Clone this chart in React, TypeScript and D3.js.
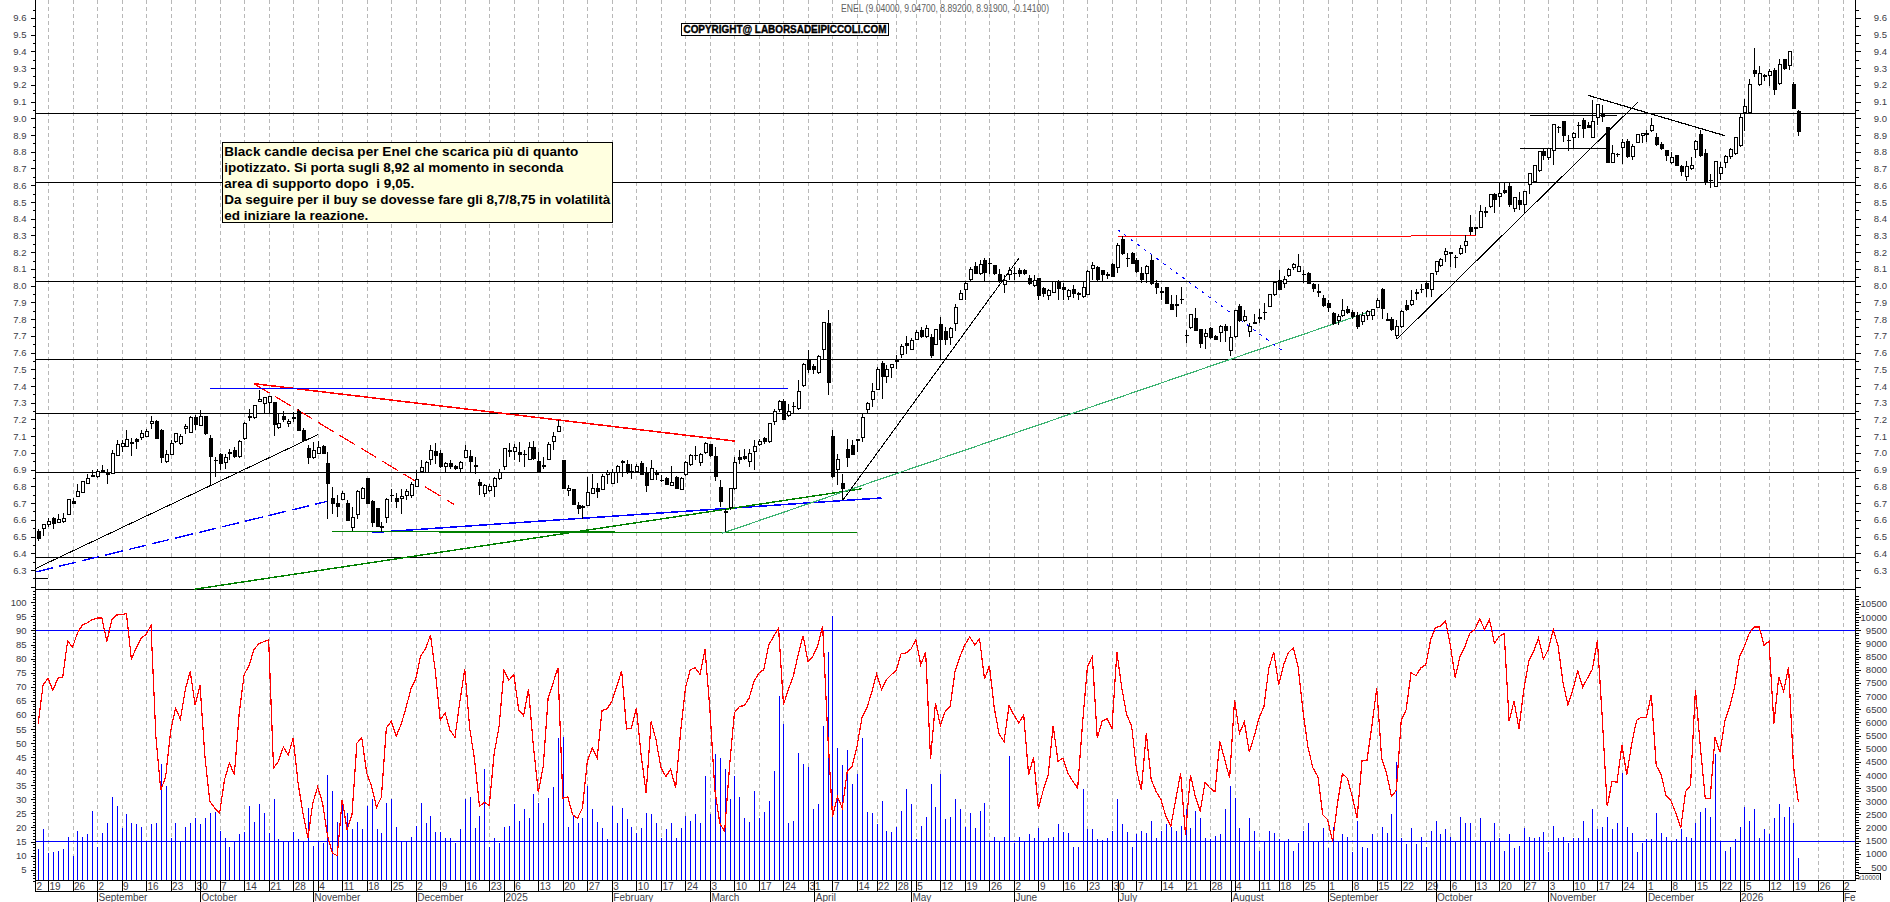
import React, { useEffect, useRef } from 'react';
import * as d3 from 'd3';

const WIDTH = 1890;
const HEIGHT = 902;

// daily candles, bar 0 is mid August 2024, bar 359 is the last session
const opens = [
  6.532, 6.548, 6.57, 6.61, 6.585, 6.59, 6.63, 6.71, 6.74, 6.763,
  6.815, 6.865, 6.862, 6.895, 6.88, 6.88, 6.986, 7.036, 7.04, 7.065,
  7.08, 7.095, 7.1, 7.173, 7.19, 7.135, 6.946, 6.988, 7.066, 7.055,
  7.145, 7.12, 7.21, 7.165, 7.22, 7.088, 6.955, 6.99, 6.94, 7.005,
  7.016, 6.976, 7.084, 7.217, 7.21, 7.305, 7.295, 7.3, 7.3, 7.153,
  7.22, 7.175, 7.21, 7.25, 7.135, 7.025, 6.97, 6.996, 7.04, 6.936,
  6.727, 6.695, 6.723, 6.697, 6.554, 6.63, 6.73, 6.847, 6.71, 6.667,
  6.56, 6.617, 6.747, 6.727, 6.725, 6.743, 6.743, 6.8, 6.89, 6.886,
  6.96, 7.008, 6.996, 6.916, 6.936, 6.92, 6.904, 6.972, 6.98, 6.924,
  6.823, 6.76, 6.773, 6.797, 6.847, 6.916, 7.014, 7.006, 7.002, 6.992,
  6.96, 7.03, 6.95, 6.926, 6.96, 7.068, 7.127, 6.956, 6.775, 6.783,
  6.685, 6.677, 6.685, 6.76, 6.785, 6.78, 6.87, 6.817, 6.884, 6.946,
  6.93, 6.892, 6.892, 6.936, 6.876, 6.84, 6.876, 6.836, 6.85, 6.805,
  6.855, 6.78, 6.87, 6.93, 6.986, 6.94, 7.002, 7.05, 6.978, 6.795,
  6.651, 6.673, 6.785, 6.974, 6.98, 6.948, 7.01, 7.048, 7.086, 7.066,
  7.19, 7.26, 7.305, 7.225, 7.28, 7.263, 7.404, 7.558, 7.516, 7.478,
  7.62, 7.773, 7.1, 6.9, 6.82, 7.022, 7.042, 7.08, 7.09, 7.257,
  7.32, 7.382, 7.534, 7.454, 7.51, 7.55, 7.588, 7.653, 7.616, 7.677,
  7.73, 7.693, 7.69, 7.647, 7.767, 7.727, 7.687, 7.773, 7.92, 7.978,
  8.034, 8.114, 8.07, 8.153, 8.133, 8.118, 8.068, 8.008, 8.064, 8.074,
  8.09, 8.09, 8.04, 8.0, 8.04, 7.98, 7.942, 7.958, 8.024, 7.99,
  7.934, 7.974, 7.95, 7.934, 7.948, 8.1, 8.11, 8.09, 8.064, 8.124,
  8.11, 8.277, 8.163, 8.193, 8.153, 8.07, 8.07, 8.153, 8.01, 7.962,
  7.99, 7.89, 7.89, 7.918, 7.703, 7.747, 7.803, 7.739, 7.693, 7.743,
  7.697, 7.72, 7.757, 7.613, 7.693, 7.877, 7.789, 7.723, 7.777, 7.809,
  7.84, 7.877, 7.944, 8.028, 8.014, 8.06, 8.107, 8.084, 8.068, 8.074,
  8.008, 7.964, 7.924, 7.892, 7.833, 7.789, 7.819, 7.857, 7.837, 7.823,
  7.783, 7.819, 7.819, 7.872, 7.974, 7.797, 7.797, 7.703, 7.753, 7.882,
  7.888, 7.958, 7.978, 8.014, 7.978, 8.084, 8.123, 8.187, 8.197, 8.17,
  8.19, 8.24, 8.35, 8.347, 8.35, 8.44, 8.47, 8.545, 8.53, 8.57,
  8.594, 8.462, 8.51, 8.482, 8.606, 8.62, 8.688, 8.8, 8.763, 8.81,
  8.945, 8.978, 8.87, 8.885, 8.958, 8.985, 8.958, 8.884, 9.004, 9.03,
  8.944, 8.735, 8.785, 8.825, 8.862, 8.77, 8.858, 8.9, 8.902, 8.926,
  8.884, 8.842, 8.806, 8.735, 8.775, 8.71, 8.655, 8.7, 8.814, 8.902,
  8.79, 8.63, 8.595, 8.67, 8.735, 8.77, 8.788, 8.838, 9.034, 9.034,
  9.285, 9.2, 9.253, 9.253, 9.285, 9.207, 9.35, 9.313, 9.2, 9.04,
];

const closes = [
  6.488, 6.57, 6.59, 6.58, 6.6, 6.606, 6.72, 6.7, 6.77, 6.827,
  6.847, 6.857, 6.888, 6.895, 6.87, 6.996, 7.05, 7.055, 7.08, 7.055,
  7.07, 7.115, 7.13, 7.187, 7.085, 6.97, 6.99, 7.055, 7.115, 7.1,
  7.155, 7.21, 7.17, 7.217, 7.115, 6.98, 6.955, 6.936, 6.97, 6.995,
  6.976, 7.068, 7.175, 7.209, 7.283, 7.32, 7.33, 7.335, 7.167, 7.173,
  7.2, 7.19, 7.21, 7.137, 7.075, 6.97, 7.014, 7.03, 6.996, 6.815,
  6.695, 6.677, 6.757, 6.594, 6.617, 6.77, 6.785, 6.697, 6.585, 6.56,
  6.56, 6.72, 6.747, 6.707, 6.74, 6.77, 6.81, 6.84, 6.91, 6.94,
  7.012, 6.986, 6.92, 6.936, 6.916, 6.904, 6.94, 7.014, 6.95, 6.916,
  6.805, 6.805, 6.797, 6.847, 6.886, 7.026, 7.014, 7.03, 6.99, 6.992,
  7.03, 6.968, 6.886, 6.916, 7.05, 7.1, 7.157, 6.79, 6.79, 6.69,
  6.665, 6.677, 6.763, 6.787, 6.767, 6.862, 6.882, 6.882, 6.916, 6.946,
  6.89, 6.892, 6.92, 6.87, 6.807, 6.906, 6.876, 6.836, 6.813, 6.823,
  6.79, 6.847, 6.94, 6.984, 6.986, 6.99, 7.055, 6.982, 6.857, 6.711,
  6.643, 6.789, 6.942, 6.958, 6.964, 6.996, 7.036, 7.068, 7.068, 7.173,
  7.245, 7.305, 7.2, 7.25, 7.28, 7.367, 7.53, 7.496, 7.498, 7.576,
  7.78, 7.418, 6.857, 6.96, 6.79, 6.97, 6.99, 7.072, 7.21, 7.295,
  7.365, 7.498, 7.456, 7.498, 7.528, 7.55, 7.635, 7.64, 7.673, 7.72,
  7.693, 7.742, 7.58, 7.737, 7.68, 7.677, 7.743, 7.87, 7.954, 8.014,
  8.094, 8.074, 8.124, 8.078, 8.133, 8.07, 8.03, 8.028, 8.088, 8.074,
  8.074, 8.074, 8.01, 8.028, 7.942, 7.954, 7.97, 8.024, 7.984, 7.978,
  7.968, 7.954, 7.95, 7.99, 8.084, 8.12, 8.036, 8.064, 8.064, 8.054,
  8.237, 8.193, 8.163, 8.133, 8.084, 8.034, 8.114, 8.014, 7.988, 7.958,
  7.895, 7.86, 7.88, 7.918, 7.703, 7.825, 7.733, 7.657, 7.713, 7.69,
  7.68, 7.757, 7.729, 7.689, 7.849, 7.789, 7.817, 7.753, 7.777, 7.809,
  7.84, 7.948, 8.018, 7.978, 8.038, 8.098, 8.127, 8.117, 8.068, 8.014,
  7.98, 7.964, 7.882, 7.867, 7.773, 7.817, 7.849, 7.837, 7.813, 7.753,
  7.819, 7.843, 7.857, 7.912, 7.862, 7.797, 7.737, 7.757, 7.847, 7.859,
  7.912, 7.958, 7.978, 7.984, 8.07, 8.143, 8.157, 8.203, 8.197, 8.17,
  8.223, 8.263, 8.323, 8.347, 8.445, 8.44, 8.543, 8.515, 8.55, 8.556,
  8.483, 8.526, 8.486, 8.564, 8.67, 8.72, 8.8, 8.775, 8.82, 8.96,
  8.945, 8.895, 8.87, 8.91, 8.958, 8.94, 8.946, 8.978, 9.08, 9.008,
  8.735, 8.79, 8.785, 8.858, 8.77, 8.83, 8.902, 8.912, 8.912, 8.954,
  8.844, 8.82, 8.775, 8.765, 8.72, 8.685, 8.714, 8.72, 8.864, 8.78,
  8.625, 8.63, 8.74, 8.705, 8.77, 8.816, 8.884, 9.004, 9.07, 9.2,
  9.27, 9.27, 9.253, 9.28, 9.17, 9.32, 9.297, 9.402, 9.06, 8.919,
];

const highs = [
  6.548, 6.577, 6.613, 6.617, 6.637, 6.641, 6.721, 6.733, 6.816, 6.83,
  6.872, 6.9, 6.906, 6.926, 6.906, 7.016, 7.08, 7.075, 7.135, 7.091,
  7.09, 7.135, 7.145, 7.219, 7.195, 7.145, 7.016, 7.08, 7.119, 7.115,
  7.171, 7.219, 7.225, 7.255, 7.221, 7.105, 6.976, 7.0, 6.992, 7.026,
  7.036, 7.075, 7.183, 7.265, 7.287, 7.378, 7.334, 7.338, 7.306, 7.235,
  7.25, 7.205, 7.245, 7.265, 7.151, 7.05, 7.065, 7.071, 7.05, 7.006,
  6.796, 6.747, 6.773, 6.717, 6.677, 6.777, 6.796, 6.849, 6.721, 6.673,
  6.587, 6.733, 6.787, 6.761, 6.787, 6.787, 6.826, 6.9, 6.96, 6.952,
  7.046, 7.06, 7.016, 6.946, 6.956, 6.926, 6.952, 7.046, 7.02, 6.976,
  6.847, 6.812, 6.816, 6.856, 6.906, 7.03, 7.06, 7.055, 7.065, 7.016,
  7.065, 7.071, 7.006, 6.976, 7.065, 7.125, 7.195, 6.96, 6.806, 6.787,
  6.709, 6.687, 6.856, 6.876, 6.82, 6.876, 6.9, 6.906, 6.926, 6.96,
  6.96, 6.936, 6.936, 6.952, 6.916, 6.956, 6.896, 6.866, 6.856, 6.92,
  6.86, 6.856, 6.952, 6.996, 7.04, 7.0, 7.063, 7.05, 7.036, 6.836,
  6.667, 6.793, 6.976, 7.016, 7.026, 7.026, 7.075, 7.085, 7.095, 7.175,
  7.265, 7.318, 7.324, 7.29, 7.304, 7.434, 7.537, 7.617, 7.533, 7.583,
  7.783, 7.856, 7.135, 6.996, 6.876, 7.085, 7.075, 7.083, 7.235, 7.304,
  7.418, 7.514, 7.55, 7.524, 7.533, 7.583, 7.653, 7.697, 7.689, 7.733,
  7.753, 7.763, 7.713, 7.743, 7.812, 7.753, 7.753, 7.892, 7.974, 8.024,
  8.113, 8.143, 8.153, 8.163, 8.163, 8.123, 8.097, 8.064, 8.113, 8.113,
  8.103, 8.097, 8.064, 8.064, 8.044, 7.99, 7.978, 8.03, 8.034, 8.018,
  7.978, 8.004, 7.964, 8.024, 8.094, 8.143, 8.117, 8.094, 8.084, 8.133,
  8.253, 8.297, 8.193, 8.203, 8.163, 8.113, 8.123, 8.183, 8.034, 7.99,
  7.994, 7.944, 7.945, 7.994, 7.737, 7.832, 7.868, 7.743, 7.743, 7.753,
  7.703, 7.763, 7.773, 7.757, 7.852, 7.892, 7.852, 7.777, 7.832, 7.862,
  7.896, 7.952, 8.024, 8.094, 8.058, 8.103, 8.133, 8.189, 8.094, 8.084,
  8.014, 8.01, 7.944, 7.912, 7.842, 7.828, 7.92, 7.876, 7.852, 7.842,
  7.842, 7.852, 7.862, 7.924, 7.984, 7.836, 7.812, 7.792, 7.852, 7.912,
  7.974, 7.978, 8.01, 8.024, 8.078, 8.149, 8.163, 8.223, 8.203, 8.183,
  8.243, 8.303, 8.422, 8.353, 8.482, 8.472, 8.547, 8.556, 8.611, 8.617,
  8.617, 8.528, 8.562, 8.564, 8.675, 8.723, 8.801, 8.821, 8.821, 8.96,
  8.956, 8.98, 8.9, 8.92, 8.98, 9.0, 8.98, 9.11, 9.08, 9.08,
  8.944, 8.84, 8.79, 8.874, 8.874, 8.846, 8.904, 8.914, 8.93, 9.0,
  8.91, 8.86, 8.81, 8.8, 8.775, 8.72, 8.745, 8.77, 8.87, 8.93,
  8.815, 8.67, 8.743, 8.74, 8.78, 8.82, 8.885, 9.025, 9.113, 9.233,
  9.418, 9.313, 9.265, 9.293, 9.3, 9.352, 9.357, 9.402, 9.215, 9.047,
];

const lows = [
  6.474, 6.502, 6.557, 6.546, 6.581, 6.581, 6.627, 6.701, 6.737, 6.761,
  6.812, 6.855, 6.85, 6.884, 6.816, 6.876, 6.98, 7.006, 7.042, 6.982,
  7.026, 7.075, 7.095, 7.145, 7.085, 6.94, 6.942, 6.986, 7.06, 7.045,
  7.115, 7.119, 7.135, 7.159, 7.109, 6.806, 6.856, 6.896, 6.906, 6.96,
  6.972, 6.972, 7.08, 7.191, 7.203, 7.302, 7.239, 7.239, 7.101, 7.143,
  7.185, 7.155, 7.185, 7.131, 7.065, 6.932, 6.966, 6.992, 6.992, 6.607,
  6.637, 6.617, 6.717, 6.591, 6.534, 6.603, 6.727, 6.693, 6.557, 6.557,
  6.528, 6.583, 6.707, 6.673, 6.637, 6.717, 6.733, 6.796, 6.888, 6.884,
  6.926, 6.936, 6.912, 6.884, 6.906, 6.896, 6.886, 6.97, 6.886, 6.876,
  6.747, 6.737, 6.767, 6.737, 6.84, 6.896, 6.976, 6.956, 6.946, 6.916,
  6.956, 6.956, 6.88, 6.906, 6.956, 7.016, 7.123, 6.785, 6.741, 6.687,
  6.637, 6.607, 6.681, 6.757, 6.733, 6.777, 6.816, 6.812, 6.82, 6.856,
  6.876, 6.846, 6.886, 6.866, 6.767, 6.84, 6.84, 6.826, 6.806, 6.8,
  6.787, 6.777, 6.86, 6.922, 6.956, 6.922, 6.996, 6.978, 6.832, 6.677,
  6.528, 6.657, 6.78, 6.936, 6.956, 6.916, 6.896, 7.044, 7.055, 7.061,
  7.165, 7.245, 7.195, 7.215, 7.235, 7.259, 7.394, 7.478, 7.47, 7.47,
  7.558, 7.344, 6.852, 6.806, 6.717, 6.916, 6.986, 7.006, 7.063, 7.231,
  7.275, 7.378, 7.322, 7.418, 7.45, 7.504, 7.569, 7.593, 7.613, 7.673,
  7.689, 7.689, 7.569, 7.643, 7.553, 7.647, 7.643, 7.729, 7.914, 7.914,
  8.03, 8.07, 8.064, 8.024, 8.07, 8.062, 8.014, 7.954, 8.034, 8.034,
  8.054, 8.064, 8.004, 7.994, 7.914, 7.934, 7.914, 7.954, 7.914, 7.914,
  7.914, 7.924, 7.914, 7.928, 7.944, 8.034, 8.03, 8.024, 8.038, 8.05,
  8.074, 8.183, 8.113, 8.129, 8.078, 8.014, 8.014, 8.004, 7.95, 7.914,
  7.89, 7.857, 7.813, 7.892, 7.657, 7.743, 7.729, 7.629, 7.623, 7.683,
  7.673, 7.663, 7.663, 7.577, 7.689, 7.783, 7.785, 7.693, 7.769, 7.777,
  7.797, 7.872, 7.94, 7.974, 7.984, 8.054, 8.094, 8.08, 8.014, 8.01,
  7.964, 7.934, 7.872, 7.842, 7.763, 7.763, 7.812, 7.832, 7.802, 7.743,
  7.763, 7.792, 7.792, 7.868, 7.803, 7.788, 7.729, 7.683, 7.749, 7.848,
  7.876, 7.914, 7.954, 7.934, 7.93, 8.064, 8.113, 8.143, 8.113, 8.107,
  8.183, 8.197, 8.303, 8.303, 8.343, 8.412, 8.462, 8.432, 8.472, 8.548,
  8.472, 8.438, 8.452, 8.432, 8.546, 8.611, 8.679, 8.751, 8.751, 8.721,
  8.91, 8.86, 8.807, 8.82, 8.88, 8.88, 8.94, 8.88, 8.96, 8.98,
  8.73, 8.73, 8.77, 8.727, 8.76, 8.75, 8.85, 8.85, 8.86, 8.918,
  8.836, 8.81, 8.745, 8.727, 8.715, 8.657, 8.625, 8.69, 8.76, 8.77,
  8.6, 8.585, 8.587, 8.63, 8.7, 8.755, 8.78, 8.826, 8.926, 9.026,
  9.245, 9.193, 9.225, 9.193, 9.14, 9.2, 9.29, 9.29, 9.056, 8.892,
];

// lower panel: oscillator on the left scale, volume on the right scale
const oscillator = [
  56.9, 70.7, 73, 68.7, 73, 73.5, 86.3, 84, 89.1, 91.9,
  92.7, 93.8, 94.4, 94.4, 86, 93.8, 95.5, 95.6, 96, 79.9,
  83.8, 87.3, 88.5, 91.9, 52.4, 33.2, 38.1, 54.1, 62.4, 58.5,
  69, 75.5, 63.6, 70.6, 45.3, 29.3, 26.9, 25.1, 37, 42.9,
  38.7, 60.7, 74.3, 77.5, 83.2, 85.3, 86, 86.7, 41.1, 43.5,
  48.6, 45.7, 51.8, 35.8, 25.1, 16.2, 28.7, 34.4, 28.7, 17,
  10.9, 10, 29.9, 19.2, 24.5, 50, 51.8, 39.3, 34.6, 27.2,
  30.8, 55.3, 57.7, 52.4, 56.5, 62.4, 69.2, 72.7, 81, 83.4,
  88.4, 75.5, 58.1, 60.7, 54.5, 52, 64.8, 76.3, 55.3, 44.1,
  27.5, 28.9, 27.8, 46.4, 55.9, 75.7, 72.3, 74.4, 61.8, 59.7,
  69.2, 48.8, 32.5, 41.7, 66, 71.3, 76.7, 30.4, 30.9, 24.5,
  23.3, 26.9, 43.5, 48.2, 44.7, 61.6, 62.1, 64.8, 70.1, 75.7,
  55, 55.3, 62.4, 45.3, 32.2, 57.6, 51.2, 41.3, 38.1, 40.7,
  34, 53.5, 69.5, 76.1, 76.7, 74.4, 83.4, 61.8, 33.4, 21.6,
  18.6, 41.7, 60.7, 63, 63.3, 66, 71.9, 74.9, 76.1, 84.9,
  87.9, 90.9, 63.6, 69, 73.7, 81.4, 88.1, 79, 80.8, 84.6,
  91.5, 54.1, 23.9, 31, 26.9, 39.9, 41.7, 48.8, 58.9, 62.4,
  68, 74.6, 69, 72.5, 74.3, 75.8, 81.8, 82, 83.4, 86.7,
  77.8, 82.3, 44.3, 64.2, 56.2, 61.3, 63, 75.5, 80.8, 84.9,
  87.7, 84.9, 87, 72.7, 77.5, 62.4, 53, 50.6, 63.3, 60,
  57.1, 60, 38.7, 45, 26.5, 33.4, 38.7, 56.2, 43.5, 44.7,
  39.3, 36.4, 34, 57.1, 77.2, 80.8, 51.8, 57.7, 58.6, 55.3,
  82.3, 69.5, 60, 56.2, 40.5, 33.4, 53.5, 37, 32.8, 29.9,
  23.9, 20.4, 29.9, 39.3, 17.4, 38.7, 31, 25.7, 36.1, 34,
  32.6, 50.6, 44.1, 37.5, 65.4, 53.5, 57.5, 46.8, 52.4, 58.9,
  63, 76.7, 82.3, 70.7, 77.8, 82.2, 83.8, 76.7, 60.7, 48.2,
  41.1, 38.1, 24.5, 22.7, 15, 28.7, 39.1, 37.5, 31, 23.3,
  43.8, 43.8, 55.9, 69.5, 44.7, 39.3, 31, 33.2, 58.1, 61.8,
  74.9, 74, 76.7, 77.8, 86.7, 91.1, 91.5, 93.5, 84.9, 73.3,
  80.8, 84.4, 89.1, 90.3, 94.1, 90.3, 93.8, 85.5, 87.9, 88.9,
  57.7, 65, 55.1, 69, 79, 82.6, 87.3, 79.9, 83.2, 90.3,
  84.4, 71.3, 63.5, 69, 75.6, 69.9, 73.1, 76.3, 86.5, 58.9,
  27.5, 36.4, 36.1, 49.2, 38.7, 49.8, 58.1, 59.2, 59.2, 67.2,
  42.1, 38.7, 31.4, 29.5, 25.1, 19.8, 32.8, 34.9, 69, 48.8,
  30.4, 30.4, 52.1, 46.7, 57.7, 63, 70.1, 80.8, 84.4, 89.1,
  91.2, 91.2, 84.7, 86.2, 56.9, 73.5, 68.4, 77, 41.7, 29,
];

const volumes = [
  1170, 1950, 1020, 1060, 1130, 1170, 1650, 940, 1890, 1660,
  1740, 2650, 1280, 1810, 2160, 3180, 2840, 2000, 2520, 2160,
  2120, 2040, 1450, 2120, 2160, 4430, 3600, 1590, 2160, 1490,
  2040, 2190, 2350, 2120, 2380, 2570, 2610, 1890, 1620, 1280,
  1490, 1740, 1850, 2840, 2230, 2910, 2570, 1810, 3070, 1550,
  1440, 1490, 1850, 1550, 1490, 2760, 1320, 1490, 1400, 4010,
  3410, 2230, 2950, 2570, 1930, 2230, 1930, 2840, 3070, 1930,
  1810, 2950, 3100, 2040, 1490, 1490, 1660, 2080, 2950, 2160,
  2460, 1850, 1850, 1590, 1620, 1400, 1930, 3100, 3180, 1970,
  2460, 4240, 1280, 1590, 1400, 2040, 2080, 2910, 2270, 2720,
  2380, 3260, 2950, 2190, 3140, 3560, 5420, 5450, 2040, 2460,
  2160, 2380, 3600, 2720, 2230, 2000, 1550, 2810, 2190, 2760,
  2310, 2040, 1780, 1970, 2570, 2500, 2190, 1620, 1930, 2160,
  1620, 1970, 2460, 2270, 2500, 2160, 3980, 2500, 4810, 4660,
  4240, 3070, 3980, 3180, 2380, 2230, 3410, 2380, 2610, 3030,
  4170, 7010, 5950, 2160, 2270, 4850, 4430, 4320, 2720, 2910,
  5870, 8680, 10040, 5040, 4390, 4960, 3670, 4050, 5420, 2610,
  2540, 2120, 3030, 1890, 1850, 2040, 2650, 3450, 2910, 1550,
  2080, 2420, 3670, 2800, 4050, 2310, 2420, 3100, 2690, 2040,
  2540, 2000, 2650, 2950, 1510, 1660, 1490, 1660, 4730, 1400,
  1660, 1490, 1740, 1620, 2000, 1490, 1620, 1660, 2120, 1850,
  1810, 1280, 1250, 3450, 1930, 1930, 1550, 1520, 1620, 1890,
  3100, 2120, 1850, 1280, 1740, 1890, 1810, 2270, 1590, 1890,
  2120, 2040, 1890, 2080, 2720, 1970, 2650, 2380, 1620, 1550,
  1700, 1740, 2720, 3600, 3140, 2000, 1490, 2350, 1890, 1130,
  1440, 1890, 1810, 1550, 1510, 1550, 1130, 1400, 1890, 2190,
  1470, 1490, 1970, 1210, 2040, 1490, 1740, 1660, 1090, 2270,
  1280, 1210, 1740, 1490, 2040, 1780, 2500, 4510, 1590, 1360,
  2000, 1360, 1660, 1250, 1890, 2270, 1740, 1930, 1660, 1490,
  2420, 2190, 2190, 1490, 2350, 1490, 1490, 2190, 1620, 1130,
  1740, 1210, 1320, 1970, 1660, 1620, 1660, 1850, 1090, 2080,
  1620, 1660, 1400, 1620, 1590, 2270, 1620, 2720, 1930, 2040,
  2420, 1930, 2190, 4090, 2040, 1780, 1090, 1400, 1550, 1550,
  2570, 1810, 1660, 1440, 1550, 1930, 1660, 1620, 2190, 2610,
  2760, 2420, 4810, 1490, 1130, 1280, 1550, 2040, 2800, 2270,
  2690, 1590, 1930, 1740, 2350, 2910, 2420, 2800, 2190, 830,
];

// support and resistance levels drawn across the price panel
const priceLevels = [9.03, 8.616, 8.024, 7.557, 7.235, 6.882, 6.375];
const oscillatorLevels = [90, 15];

// bar index where each Monday falls, with the day number printed under it
const weekBars = [
  2, 7, 12, 17, 22, 27, 32, 37, 42, 47, 52, 57, 62, 67, 72, 77, 82, 87, 92, 97,
  102, 107, 112, 117, 122, 127, 132, 137, 142, 147, 152, 157, 162, 167, 171, 175,
  179, 184, 189, 194, 199, 204, 209, 214, 219, 224, 229, 234, 239, 244, 249, 253,
  258, 263, 268, 273, 278, 283, 288, 293, 298, 303, 308, 313, 318, 323, 328, 333,
  338, 343, 348, 353, 358, 363, 368,
];
const weekLabels = [
  '19', '26', '2', '9', '16', '23', '30', '7', '14', '21', '28', '4', '11', '18', '25',
  '2', '9', '16', '23', '6', '13', '20', '27', '3', '10', '17', '24', '3', '10', '17',
  '24', '31', '7', '14', '22', '28', '5', '12', '19', '26', '2', '9', '16', '23', '30',
  '7', '14', '21', '28', '4', '11', '18', '25', '1', '8', '15', '22', '29', '6', '13',
  '20', '27', '3', '10', '17', '24', '1', '8', '15', '22', '5', '12', '19', '26', '2',
];

const monthBars = [12, 33, 56, 77, 95, 117, 137, 158.3, 178, 199, 220.2, 243.3, 263, 285, 308, 328, 347, 368];
const monthLabels = [
  'September', 'October', 'November', 'December', '2025', 'February', 'March', 'April', 'May',
  'June', 'July', 'August', 'September', 'October', 'November', 'December', '2026', 'Feb',
];

const commentLines = [
  'Black candle decisa per Enel che scarica più di quanto',
  'ipotizzato. Si porta sugli 8,92 al momento in seconda',
  'area di supporto dopo  i 9,05.',
  'Da seguire per il buy se dovesse fare gli 8,7/8,75 in volatilità',
  'ed iniziare la reazione.',
];
const commentWidths = [354, 339, 190, 386, 144];

// hand drawn lines as bar index and price at both ends
const trendLines = [
  { kind: 'thinBlack', x: [-0.6, 57], p: [6.308, 7.109] },
  { kind: 'blueDash', x: [-0.6, 59], p: [6.288, 6.711] },
  { kind: 'red', x: [44, 142.1], p: [7.414, 7.071] },
  { kind: 'redDash', x: [44, 84.8], p: [7.414, 6.693] },
  { kind: 'blue', x: [35, 153], p: [7.384, 7.384] },
  { kind: 'blue', x: [68, 172], p: [6.524, 6.731] },
  { kind: 'green', x: [60, 167], p: [6.53, 6.523] },
  { kind: 'green', x: [31.8, 168], p: [6.185, 6.786] },
  { kind: 'seaGreen', x: [139.5, 272.3], p: [6.52, 7.852] },
  { kind: 'thinBlack', x: [164.1, 200], p: [6.717, 8.163] },
  { kind: 'blueDots', x: [220.2, 253.8], p: [8.333, 7.61] },
  { kind: 'redFlat', x: [220.2, 280], p: [8.295, 8.295] },
  { kind: 'redFlat', x: [280, 293.2], p: [8.3, 8.3] },
  { kind: 'thinBlack', x: [277.2, 326.2], p: [7.683, 9.095] },
  { kind: 'black', x: [316.1, 344], p: [9.137, 8.896] },
  { kind: 'black', x: [304.2, 322], p: [9.018, 9.018] },
  { kind: 'black', x: [302.2, 320.2], p: [8.82, 8.82] },
  { kind: 'black', x: [-0.6, 1.9], p: [6.249, 6.249] },
];

const trendStyles: Record<string, { color: string; width: number; dash?: string }> = {
  thinBlack: { color: '#000', width: 1 },
  black: { color: '#000', width: 1.2 },
  blueDash: { color: '#0000ff', width: 1.4, dash: '18 6' },
  redDash: { color: '#ff0000', width: 1.2, dash: '18 7' },
  blueDots: { color: '#0000ff', width: 1, dash: '3 5' },
  red: { color: '#ff0000', width: 1.5 },
  redFlat: { color: '#ff0000', width: 1 },
  blue: { color: '#0000ff', width: 1.5 },
  green: { color: '#008000', width: 1.4 },
  seaGreen: { color: '#3cb371', width: 1.2 },
};

const LABEL_FONT = '"Liberation Sans", Arial, sans-serif';
const NOTE_FONT = '"Liberation Sans Narrow", "Liberation Sans", Arial, sans-serif';

const App: React.FC = () => {
  const svgRef = useRef<SVGSVGElement>(null);

  useEffect(() => {
    if (!svgRef.current) return;

    const svg = d3.select(svgRef.current);
    svg.selectAll('*').remove();

    const left = 35.5;
    const right = 1855.5;
    const priceBottom = 589.3;
    const lowerBottom = 880.5;
    const dayRow = 891.5;

    const x = d3.scaleLinear().domain([0, 359]).range([38.2, 1798.4]);
    const yPrice = d3.scaleLinear().domain([9.707, 6.185]).range([0, priceBottom]);
    const yOsc = d3.scaleLinear().domain([100, 5]).range([602.3, 869.7]);
    const yVol = d3.scaleLinear().domain([10500, 500]).range([603.9, 867.1]);

    svg.append('defs').append('clipPath').attr('id', 'plot-clip')
      .append('rect').attr('x', left).attr('y', 0).attr('width', right - left).attr('height', HEIGHT);

    svg.append('rect').attr('width', WIDTH).attr('height', HEIGHT).attr('fill', '#fff');

    // weekly grid stops at the date rows
    svg.append('g')
      .selectAll('line')
      .data(weekBars)
      .join('line')
      .attr('x1', (d) => Math.round(x(d)) + 0.5)
      .attr('x2', (d) => Math.round(x(d)) + 0.5)
      .attr('y1', 0)
      .attr('y2', lowerBottom)
      .attr('stroke', '#b8b8b8')
      .attr('stroke-dasharray', '4 3')
      .attr('shape-rendering', 'crispEdges');

    // level lines
    svg.append('g')
      .attr('shape-rendering', 'crispEdges')
      .selectAll('line')
      .data([...priceLevels, yPrice.invert(priceBottom)])
      .join('line')
      .attr('x1', left)
      .attr('x2', right)
      .attr('y1', (d) => yPrice(d))
      .attr('y2', (d) => yPrice(d))
      .attr('stroke', '#000');

    // volume bars
    svg.append('g')
      .attr('shape-rendering', 'crispEdges')
      .selectAll('line')
      .data(volumes)
      .join('line')
      .attr('x1', (_, i) => Math.round(x(i)) + 0.5)
      .attr('x2', (_, i) => Math.round(x(i)) + 0.5)
      .attr('y1', (d) => yVol(d))
      .attr('y2', lowerBottom)
      .attr('stroke', '#0000ff');

    svg.append('g')
      .attr('shape-rendering', 'crispEdges')
      .selectAll('line')
      .data(oscillatorLevels)
      .join('line')
      .attr('x1', left)
      .attr('x2', right)
      .attr('y1', (d) => yOsc(d))
      .attr('y2', (d) => yOsc(d))
      .attr('stroke', '#0000ff');

    const oscLine = d3
      .line<number>()
      .x((_, i) => x(i))
      .y((d) => yOsc(d));

    svg.append('path')
      .datum(oscillator)
      .attr('d', oscLine)
      .attr('fill', 'none')
      .attr('stroke', '#ff0000')
      .attr('stroke-width', 1.2)
      .attr('shape-rendering', 'crispEdges');

    // trend lines sit under the candles, aliased like the rest of the chart
    svg.append('g')
      .attr('clip-path', 'url(#plot-clip)')
      .attr('shape-rendering', 'crispEdges')
      .selectAll('line')
      .data(trendLines)
      .join('line')
      .attr('x1', (d) => x(d.x[0]))
      .attr('x2', (d) => x(d.x[1]))
      .attr('y1', (d) => yPrice(d.p[0]))
      .attr('y2', (d) => yPrice(d.p[1]))
      .attr('stroke', (d) => trendStyles[d.kind].color)
      .attr('stroke-width', (d) => trendStyles[d.kind].width)
      .attr('stroke-dasharray', (d) => trendStyles[d.kind].dash ?? null);

    // candles
    const candles = svg
      .append('g')
      .attr('shape-rendering', 'crispEdges')
      .selectAll('g')
      .data(opens.map((_, i) => i))
      .join('g');

    candles
      .append('line')
      .attr('x1', (i) => Math.round(x(i)) + 0.5)
      .attr('x2', (i) => Math.round(x(i)) + 0.5)
      .attr('y1', (i) => yPrice(highs[i]))
      .attr('y2', (i) => yPrice(lows[i]))
      .attr('stroke', '#000');

    candles
      .append('rect')
      .attr('x', (i) => Math.round(x(i)) - 1)
      .attr('y', (i) => yPrice(Math.max(opens[i], closes[i])))
      .attr('width', 3)
      .attr('height', (i) => Math.max(0.5, Math.abs(yPrice(opens[i]) - yPrice(closes[i]))))
      .attr('fill', (i) => (closes[i] > opens[i] ? '#fff' : '#000'))
      .attr('stroke', '#000');

    // axes
    const axisStyle = (g: d3.Selection<SVGGElement, unknown, null, undefined>) => {
      g.selectAll('text')
        .attr('font-family', LABEL_FONT)
        .attr('font-size', 9.5)
        .attr('fill', '#3c3c46');
      g.selectAll('.domain').remove();
      g.selectAll('.tick line').attr('stroke', '#000').attr('shape-rendering', 'crispEdges');
    };

    const priceTicks = d3.range(62, 97).map((d) => d / 10);
    const priceMinor = d3.range(125, 194).map((d) => d / 20);
    const oscTicks = d3.range(5, 101, 5);
    const oscMinor = d3.range(1, 105);
    const volTicks = d3.range(500, 10501, 500);
    const volMinor = d3.range(100, 10801, 100);
    const priceLabel = (d: any) => (d < 6.25 ? '' : d3.format('.1f')(d));
    const rightLabelOffset = 1887 - right;

    const leftAxes = svg.append('g').attr('transform', `translate(${left},0)`);
    const rightAxes = svg.append('g').attr('transform', `translate(${right},0)`);

    leftAxes.append('g')
      .call(d3.axisLeft(yPrice).tickValues(priceMinor).tickSize(3).tickFormat(() => ''))
      .call(axisStyle);
    leftAxes.append('g')
      .call(d3.axisLeft(yPrice).tickValues(priceTicks).tickSize(5).tickPadding(4).tickFormat(priceLabel))
      .call(axisStyle);
    leftAxes.append('g')
      .call(d3.axisLeft(yOsc).tickValues(oscMinor).tickSize(3).tickFormat(() => ''))
      .call(axisStyle);
    leftAxes.append('g')
      .call(d3.axisLeft(yOsc).tickValues(oscTicks).tickSize(5).tickPadding(4))
      .call(axisStyle);

    rightAxes.append('g')
      .call(d3.axisRight(yPrice).tickValues(priceMinor).tickSize(3).tickFormat(() => ''))
      .call(axisStyle);
    rightAxes.append('g')
      .call(d3.axisRight(yPrice).tickValues(priceTicks).tickSize(5).tickFormat(priceLabel))
      .call(axisStyle)
      .call((g) => g.selectAll('text').attr('x', rightLabelOffset).attr('text-anchor', 'end'));
    rightAxes.append('g')
      .call(d3.axisRight(yVol).tickValues(volMinor).tickSize(3).tickFormat(() => ''))
      .call(axisStyle);
    rightAxes.append('g')
      .call(d3.axisRight(yVol).tickValues(volTicks).tickSize(5).tickFormat(d3.format('d') as any))
      .call(axisStyle)
      .call((g) => g.selectAll('text').attr('x', rightLabelOffset).attr('text-anchor', 'end'));

    // frame
    const frame = svg.append('g').attr('stroke', '#000').attr('shape-rendering', 'crispEdges');
    frame.append('line').attr('x1', left).attr('x2', left).attr('y1', 0).attr('y2', dayRow);
    frame.append('line').attr('x1', right).attr('x2', right).attr('y1', 0).attr('y2', lowerBottom);
    frame.append('line').attr('x1', left).attr('x2', right).attr('y1', lowerBottom).attr('y2', lowerBottom);
    frame.append('line').attr('x1', left).attr('x2', right).attr('y1', dayRow).attr('y2', dayRow);

    // x10000 note in the corner of the volume scale
    svg.append('path')
      .attr('d', `M${right + 2},873.5 H1880.5 V880`)
      .attr('fill', '#fff')
      .attr('stroke', '#000')
      .attr('shape-rendering', 'crispEdges');
    svg.append('text')
      .attr('x', right + 2.5)
      .attr('y', 879.5)
      .attr('font-family', LABEL_FONT)
      .attr('font-size', 6.5)
      .attr('fill', '#444')
      .text('x10000');

    // date rows
    const dates = svg.append('g')
      .attr('clip-path', 'url(#plot-clip)')
      .attr('font-family', LABEL_FONT)
      .attr('font-size', 10)
      .attr('fill', '#3c3c46');

    dates.append('text').attr('x', left + 1).attr('y', 889.5).text('2');

    dates.selectAll('.week')
      .data(weekBars)
      .join('text')
      .attr('class', 'week')
      .attr('x', (d) => x(d) + 1.5)
      .attr('y', 889.5)
      .text((_, i) => weekLabels[i]);

    dates.selectAll('.month')
      .data(monthBars)
      .join('text')
      .attr('class', 'month')
      .attr('x', (d) => x(d) + 1.5)
      .attr('y', 900.5)
      .text((_, i) => monthLabels[i]);

    // solid ticks between the date rows, month ticks run through both
    const dateTicks = svg.append('g').attr('stroke', '#000').attr('shape-rendering', 'crispEdges');
    dateTicks.selectAll('.week-tick')
      .data(weekBars.filter((d) => x(d) < right))
      .join('line')
      .attr('class', 'week-tick')
      .attr('x1', (d) => Math.round(x(d)) + 0.5)
      .attr('x2', (d) => Math.round(x(d)) + 0.5)
      .attr('y1', lowerBottom)
      .attr('y2', dayRow);
    dateTicks.selectAll('.month-tick')
      .data(monthBars)
      .join('line')
      .attr('class', 'month-tick')
      .attr('x1', (d) => Math.round(x(d)) + 0.5)
      .attr('x2', (d) => Math.round(x(d)) + 0.5)
      .attr('y1', lowerBottom)
      .attr('y2', HEIGHT);

    // comment box
    svg.append('rect')
      .attr('x', 222.5)
      .attr('y', 142.5)
      .attr('width', 390)
      .attr('height', 80)
      .attr('fill', '#ffffe0')
      .attr('stroke', '#000')
      .attr('shape-rendering', 'crispEdges');

    svg.append('g')
      .attr('font-family', NOTE_FONT)
      .attr('font-size', 13.5)
      .attr('font-weight', 700)
      .attr('fill', '#000')
      .selectAll('text')
      .data(commentLines)
      .join('text')
      .attr('x', 224.2)
      .attr('y', (_, i) => 155.5 + i * 16)
      .attr('textLength', (_, i) => commentWidths[i])
      .attr('lengthAdjust', 'spacing')
      .style('white-space', 'pre')
      .text((d) => d);

    // title and copyright
    svg.append('text')
      .attr('x', 841)
      .attr('y', 11.5)
      .attr('font-family', LABEL_FONT)
      .attr('font-size', 10)
      .attr('fill', '#5f5f5f')
      .attr('textLength', 208)
      .attr('lengthAdjust', 'spacingAndGlyphs')
      .text('ENEL (9.04000, 9.04700, 8.89200, 8.91900, -0.14100)');

    svg.append('rect')
      .attr('x', 681.5)
      .attr('y', 23.5)
      .attr('width', 207)
      .attr('height', 12)
      .attr('fill', '#fff')
      .attr('stroke', '#000')
      .attr('shape-rendering', 'crispEdges');

    svg.append('text')
      .attr('x', 683.5)
      .attr('y', 33.2)
      .attr('font-family', LABEL_FONT)
      .attr('font-size', 11)
      .attr('font-weight', 700)
      .attr('fill', '#000')
      .attr('stroke', '#000')
      .attr('stroke-width', 0.4)
      .attr('textLength', 203)
      .attr('lengthAdjust', 'spacingAndGlyphs')
      .text('COPYRIGHT@ LABORSADEIPICCOLI.COM');
  }, []);

  return (
    <div style={{ position: 'absolute', left: 0, top: 0, width: WIDTH, height: HEIGHT }}>
      <svg ref={svgRef} width={WIDTH} height={HEIGHT} style={{ display: 'block' }} />
    </div>
  );
};

export default App;
